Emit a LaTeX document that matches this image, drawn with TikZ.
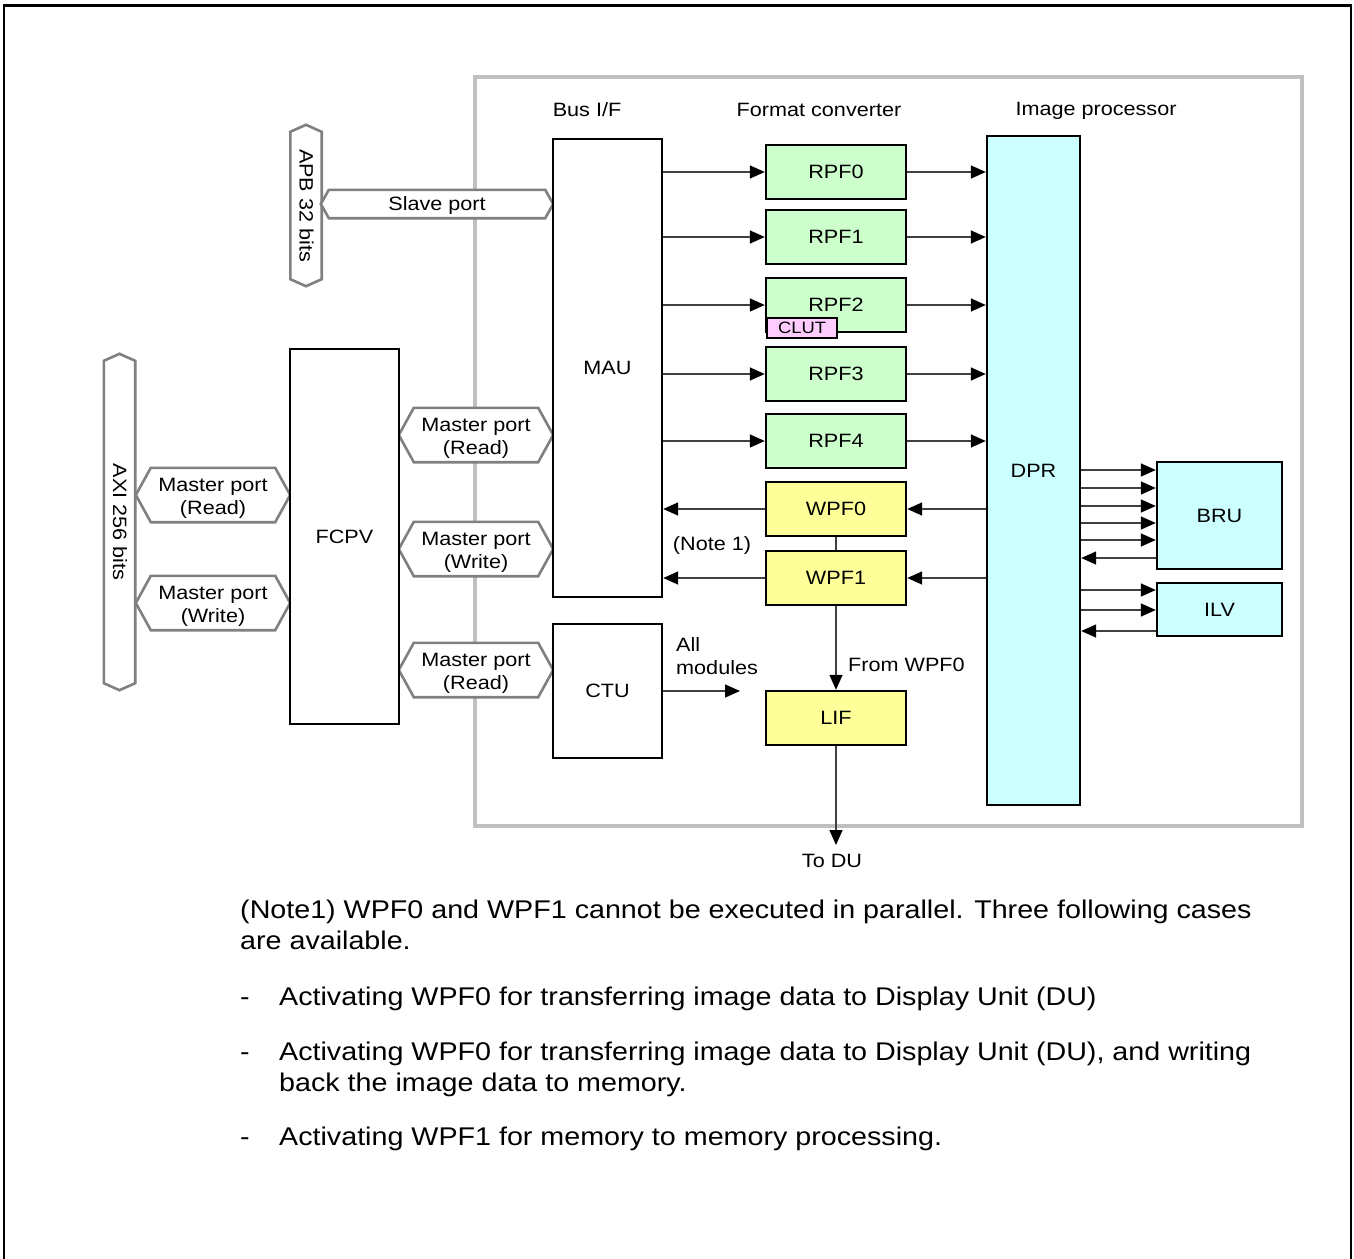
\documentclass[tikz,border=0pt]{standalone}
\usepackage{fontspec}
\setmainfont[FakeStretch=1.12]{Liberation Sans}
\usetikzlibrary{arrows.meta,calc}
\definecolor{rpfgreen}{HTML}{CCFFCC}
\definecolor{wpfyellow}{HTML}{FFFF99}
\definecolor{dprcyan}{HTML}{CCFFFF}
\definecolor{clutpink}{HTML}{FFCCFF}
\definecolor{framegray}{HTML}{C0C0C0}
\definecolor{portgray}{HTML}{808080}
\definecolor{conncol}{HTML}{404040}
\pgfdeclarelayer{bg}
\pgfdeclarelayer{ports}
\pgfsetlayers{bg,ports,main}
\newcommand{\dfont}{\fontsize{19.3}{23}\selectfont}
\newcommand{\nfont}{\fontsize{25.6}{31}\selectfont}
\newcommand{\hexport}[2]{%
  \begin{pgfonlayer}{ports}
  \draw[portline] ($(#1.north west)!#2!(#1.north east)$) -- ($(#1.north east)!#2!(#1.north west)$) -- (#1.east) -- ($(#1.south east)!#2!(#1.south west)$) -- ($(#1.south west)!#2!(#1.south east)$) -- (#1.west) -- cycle;
  \end{pgfonlayer}}
\tikzset{
  ctext/.style={text height=13pt, text depth=0pt},
  mtext/.style={text height=38pt, text depth=0pt},
  box/.style={draw=black, line width=2.4pt, inner sep=0pt, font=\dfont, fill=white, ctext},
  rpf/.style={box, fill=rpfgreen, minimum width=140pt, minimum height=54pt},
  wpf/.style={box, fill=wpfyellow, minimum width=140pt, minimum height=54pt},
  cyanbox/.style={box, fill=dprcyan},
  port/.style={inner sep=0pt, font=\dfont, align=center, ctext},
  mport/.style={port, mtext, minimum width=154pt, minimum height=54pt},
  portline/.style={draw=portgray, line width=2.6pt, fill=white, line join=miter},
  lbl/.style={inner sep=0pt, font=\dfont, ctext},
  arr/.style={draw=conncol, line width=1.5pt, -{Triangle[length=15pt,width=13pt,color=black]}},
  plain/.style={draw=conncol, line width=1.5pt},
  note/.style={inner sep=0pt, font=\nfont, anchor=base west},
}
\begin{document}
\begin{tikzpicture}[x=1pt,y=-1pt]
\useasboundingbox (0,0) rectangle (1354,1258);
% outer frame
\draw[line width=2pt] (3.5,1260) -- (3.5,5);
\draw[line width=2pt] (1351,1260) -- (1351,5);
\draw[line width=3pt] (2.5,5) -- (1352,5);
% gray block frame
\begin{pgfonlayer}{bg}
\draw[draw=framegray, line width=4pt] (475,77) rectangle (1302,826);
\end{pgfonlayer}
% headers
\node[lbl] (hbus) at (587,110) {Bus I/F};
\node[lbl] (hfmt) at (819,110) {Format converter};
\node[lbl] (himg) at (1096,109) {Image processor};
% main blocks
\node[box, minimum width=109pt, minimum height=458pt] (mau) at (607.5,368) {MAU};
\node[box, minimum width=109pt, minimum height=134pt] (ctu) at (607.5,691) {CTU};
\node[box, minimum width=109pt, minimum height=375pt] (fcpv) at (344.5,536.5) {FCPV};
\node[rpf] (rpf0) at (836,172) {RPF0};
\node[rpf] (rpf1) at (836,237) {RPF1};
\node[rpf] (rpf2) at (836,305) {RPF2};
\node[rpf] (rpf3) at (836,374) {RPF3};
\node[rpf] (rpf4) at (836,441) {RPF4};
\node[box, fill=clutpink, line width=2pt, minimum width=70pt, minimum height=20pt, text height=11pt, font=\fontsize{16.4}{18}\selectfont] (clut) at (802,328) {CLUT};
\node[wpf] (wpf0) at (836,509) {WPF0};
\node[wpf] (wpf1) at (836,578) {WPF1};
\node[wpf] (lif) at (836,718) {LIF};
\node[cyanbox, minimum width=93pt, minimum height=669pt] (dpr) at (1033.5,470.5) {DPR};
\node[cyanbox, minimum width=125pt, minimum height=107pt] (bru) at (1219.5,515.5) {BRU};
\node[cyanbox, minimum width=125pt, minimum height=53pt] (ilv) at (1219.5,609.5) {ILV};
% ports
\node[port, rotate=-90, minimum width=161pt, minimum height=31pt] (apb) at (306,205.5) {APB 32 bits};
\hexport{apb}{7pt}
\node[port, minimum width=232pt, minimum height=28pt] (slave) at (437,204) {Slave port};
\hexport{slave}{8pt}
\node[port, rotate=-90, minimum width=336pt, minimum height=31pt] (axi) at (119.5,522) {AXI 256 bits};
\hexport{axi}{7pt}
\node[mport] (mpl1) at (213,495) {Master port\\(Read)};
\hexport{mpl1}{15pt}
\node[mport] (mpl2) at (213,603) {Master port\\(Write)};
\hexport{mpl2}{15pt}
\node[mport] (mpr1) at (476,435) {Master port\\(Read)};
\hexport{mpr1}{15pt}
\node[mport] (mpr2) at (476,549) {Master port\\(Write)};
\hexport{mpr2}{15pt}
\node[mport] (mpr3) at (476,670) {Master port\\(Read)};
\hexport{mpr3}{15pt}
% MAU -> RPF -> DPR
\foreach \r in {rpf0,rpf1,rpf2,rpf3,rpf4}{
  \draw[arr] (mau.east |- \r.west) -- (\r.west);
  \draw[arr] (\r.east) -- (dpr.west |- \r.east);
}
% DPR -> WPF -> MAU
\foreach \w in {wpf0,wpf1}{
  \draw[arr] (dpr.west |- \w.east) -- (\w.east);
  \draw[arr] (\w.west) -- (mau.east |- \w.west);
}
\draw[plain] (wpf0.south) -- (wpf1.north);
\draw[arr] (wpf1.south) -- (lif.north);
\coordinate (todu) at (836,845);
\draw[arr] (lif.south) -- (todu);
\node[lbl] (todulbl) at (832,861) {To DU};
\coordinate (allmod) at (740,691);
\draw[arr] (ctu.east) -- (allmod);
\node[lbl, align=left, anchor=west, text height=37pt] (allmodlbl) at (676,656) {All\\modules};
\node[lbl, anchor=west] (fromwpf) at (848,665) {From WPF0};
\node[lbl] (note1) at (712,544) {(Note 1)};
% DPR <-> BRU / ILV
\foreach \yy in {470,488,506,523,540}{
  \draw[arr] (dpr.east |- 0,\yy) -- (bru.west |- 0,\yy);
}
\draw[arr] (bru.west |- 0,558) -- (dpr.east |- 0,558);
\foreach \yy in {590,610}{
  \draw[arr] (dpr.east |- 0,\yy) -- (ilv.west |- 0,\yy);
}
\draw[arr] (ilv.west |- 0,631) -- (dpr.east |- 0,631);
% notes
\node[note] (t1) at (240,918) {(Note1) WPF0 and WPF1 cannot be executed in parallel. Three following cases};
\node[note] (t2) at (240,949) {are available.};
\node[note] (d1) at (240,1005) {-};
\node[note] (t3) at (279,1005) {Activating WPF0 for transferring image data to Display Unit (DU)};
\node[note] (d2) at (240,1060) {-};
\node[note] (t4) at (279,1060) {Activating WPF0 for transferring image data to Display Unit (DU), and writing};
\node[note] (t5) at (279,1091) {back the image data to memory.};
\node[note] (d3) at (240,1145) {-};
\node[note] (t6) at (279,1145) {Activating WPF1 for memory to memory processing.};
\end{tikzpicture}
\end{document}
